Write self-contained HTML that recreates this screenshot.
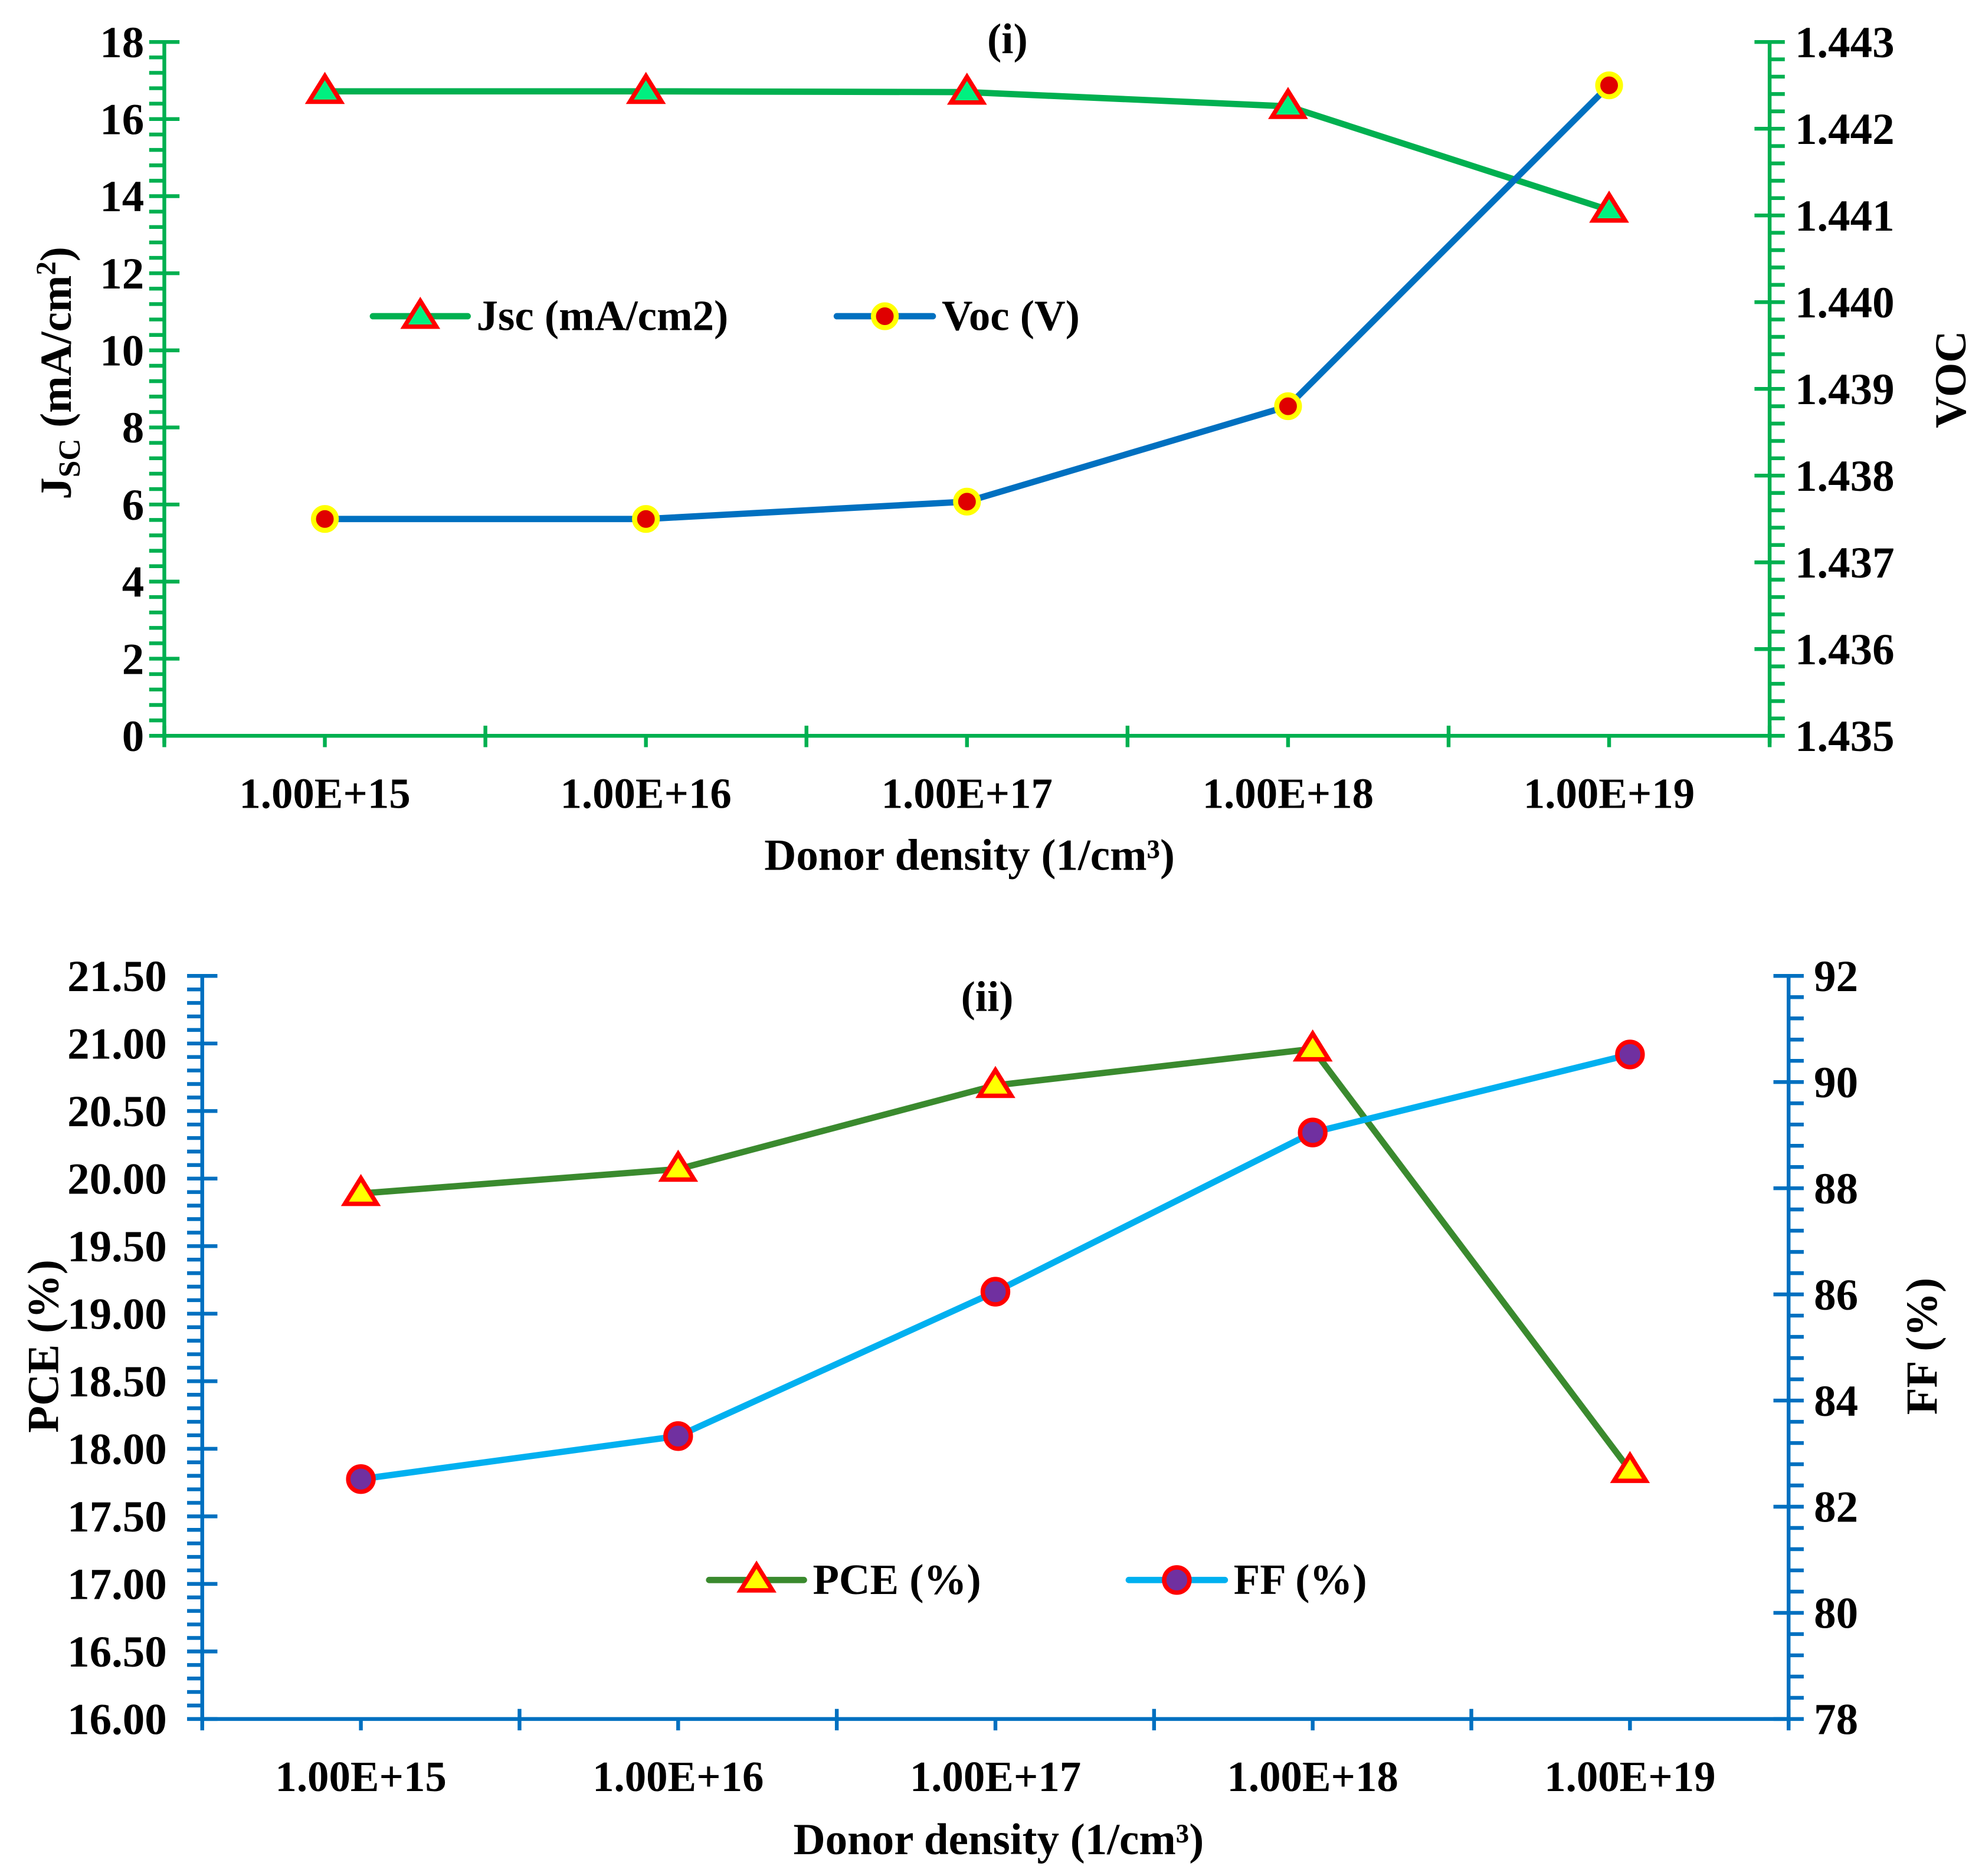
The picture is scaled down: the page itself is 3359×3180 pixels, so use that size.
<!DOCTYPE html>
<html><head><meta charset="utf-8"><style>
html,body{margin:0;padding:0;background:#fff}
svg{display:block}
text{font-family:"Liberation Serif",serif;font-weight:bold;fill:#000}
</style></head><body>
<svg id="c" width="3359" height="3180" viewBox="0 0 1568 1484" xmlns="http://www.w3.org/2000/svg"></svg>
<script>
const categories=["1.00E+15","1.00E+16","1.00E+17","1.00E+18","1.00E+19"];
const jscValues=[16.72,16.72,16.70,16.33,13.64];
const vocValues=[1.4375,1.4375,1.4377,1.4388,1.4425];
const pceValues=[19.89,20.07,20.69,20.96,17.84];
const ffValues=[82.52,83.33,86.05,89.05,90.52];
const jscTicks=[0,2,4,6,8,10,12,14,16,18];
const vocTicks=[1.435,1.436,1.437,1.438,1.439,1.440,1.441,1.442,1.443];
const pceTicks=[16,16.5,17,17.5,18,18.5,19,19.5,20,20.5,21,21.5];
const ffTicks=[78,80,82,84,86,88,90,92];

const svg=document.getElementById('c');
const NS="http://www.w3.org/2000/svg";
function mk(tag,attrs,parent,name){const e=document.createElementNS(NS,tag);for(const k in attrs)e.setAttribute(k,attrs[k]);(parent||svg).appendChild(e);


return e;}
function txt(x,y,s,size,anchor,name,rot){const t=mk('text',{x:x,y:y,'font-size':size,'text-anchor':anchor||'middle'},svg,name);if(rot)t.setAttribute('transform',`rotate(${rot} ${x} ${y})`);t.innerHTML=s;return t;}

function panel(o){
  const xs=i=>o.x0+(i+0.5)*(o.x1-o.x0)/categories.length;
  const yl=v=>o.yb-(v-o.lmin)/(o.lmax-o.lmin)*(o.yb-o.yt);
  const yr=v=>o.yb-(v-o.rmin)/(o.rmax-o.rmin)*(o.yb-o.yt);
  const ac=o.axisColor;
  mk('line',{x1:o.x0,y1:o.yt,x2:o.x0,y2:o.yb+6,stroke:ac,'stroke-width':3},svg,'left-axis');
  o.lt.forEach(v=>{const y=yl(v);
    mk('line',{x1:o.x0-12,y1:y,x2:o.x0+12,y2:y,stroke:ac,'stroke-width':3},svg,'left-major-tick');
    txt(o.x0-o.lgap,y+12,o.lfmt(v),35,'end','left-tick-label');});
  for(let k=1;k<o.lt.length;k++){const a=o.lt[k-1],b=o.lt[k];for(let m=1;m<o.lminN;m++){const y=yl(a+(b-a)*m/o.lminN);mk('line',{x1:o.x0-12,y1:y,x2:o.x0,y2:y,stroke:ac,'stroke-width':3},svg,'left-minor-tick');}}
  mk('line',{x1:o.x1,y1:o.yt,x2:o.x1,y2:o.yb+6,stroke:ac,'stroke-width':3},svg,'right-axis');
  o.rt.forEach(v=>{const y=yr(v);
    mk('line',{x1:o.x1-12,y1:y,x2:o.x1+12,y2:y,stroke:ac,'stroke-width':3},svg,'right-major-tick');
    txt(o.x1+20,y+12,o.rfmt(v),35,'start','right-tick-label');});
  for(let k=1;k<o.rt.length;k++){const a=o.rt[k-1],b=o.rt[k];for(let m=1;m<o.rminN;m++){const y=yr(a+(b-a)*m/o.rminN);mk('line',{x1:o.x1,y1:y,x2:o.x1+12,y2:y,stroke:ac,'stroke-width':3},svg,'right-minor-tick');}}
  mk('line',{x1:o.x0,y1:o.yb,x2:o.x1,y2:o.yb,stroke:ac,'stroke-width':3},svg,'x-axis');
  const w=(o.x1-o.x0)/categories.length;
  for(let k=0;k<=categories.length;k++){const x=o.x0+k*w;mk('line',{x1:x,y1:o.yb-8,x2:x,y2:o.yb+9,stroke:ac,'stroke-width':3},svg,'x-major-tick');}
  categories.forEach((c,i)=>{mk('line',{x1:xs(i),y1:o.yb,x2:xs(i),y2:o.yb+9,stroke:ac,'stroke-width':3},svg,'x-minor-tick');
    txt(xs(i),o.yb+57,c,34,'middle','x-tick-label');});
  o.series.forEach(s=>{
    const yf=s.axis==='l'?yl:yr;
    const pts=s.vals.map((v,i)=>xs(i)+','+yf(v)).join(' ');
    mk('polyline',{points:pts,fill:'none',stroke:s.color,'stroke-width':5,'stroke-linejoin':'round'},svg,s.name+'-line');
    s.vals.forEach((v,i)=>marker(s,xs(i),yf(v),s.name+'-point'));
  });
}
function marker(s,x,y,name){
  if(s.marker==='tri'){const r=11;mk('polygon',{points:`${x},${y-r*1.1} ${x-r*1.15},${y+r*0.75} ${x+r*1.15},${y+r*0.75}`,fill:s.mfill,stroke:s.mstroke,'stroke-width':3.5,'stroke-linejoin':'miter'},svg,name);}
  else mk('circle',{cx:x,cy:y,r:s.r||9.5,fill:s.mfill,stroke:s.mstroke,'stroke-width':s.sw||4},svg,name);
}
function legend(x1,x2,y,s,label){
  mk('line',{x1:x1,y1:y,x2:x2,y2:y,stroke:s.color,'stroke-width':5,'stroke-linecap':'round'},svg,s.name+'-legend-line');
  marker(s,(x1+x2)/2,y,s.name+'-legend-marker');
  txt(x2+7,y+11,label,34,'start',s.name+'-legend-label');
}

const jsc={name:'jsc',axis:'l',vals:jscValues,color:'#00B050',marker:'tri',mfill:'#00F080',mstroke:'#FF0000'};
const voc={name:'voc',axis:'r',vals:vocValues,color:'#0070C0',marker:'circ',mfill:'#E00000',mstroke:'#FFFF00',r:9,sw:4};
panel({x0:130,x1:1400,yt:33,yb:582,lmin:0,lmax:18,rmin:1.435,rmax:1.443,lt:jscTicks,rt:vocTicks,lminN:5,rminN:5,lgap:16,
  lfmt:v=>String(v),rfmt:v=>v.toFixed(3),axisColor:'#00B050',series:[jsc,voc]});
txt(797,42,'(i)',34,'middle','panel-i-title');
legend(295,370,250,jsc,'Jsc (mA/cm2)');
legend(662,738,250,voc,'Voc (V)');
txt(56,295,'J<tspan font-size="24" dy="7">SC</tspan><tspan dy="-7"> (mA/cm</tspan><tspan font-size="22" dy="-12">2</tspan><tspan dy="12">)</tspan>',35,'middle','y-axis-title-left-i',-90);
txt(1555,300,'VOC',35,'middle','y-axis-title-right-i',-90);
txt(767,688,'Donor density (1/cm³)',35,'middle','x-axis-title-i');

const pce={name:'pce',axis:'l',vals:pceValues,color:'#3A8A2E',marker:'tri',mfill:'#FFFF00',mstroke:'#FF0000'};
const ff={name:'ff',axis:'r',vals:ffValues,color:'#00B0F0',marker:'circ',mfill:'#7030A0',mstroke:'#FF0000',r:10,sw:3.5};
panel({x0:160,x1:1415,yt:772,yb:1360,lmin:16,lmax:21.5,rmin:78,rmax:92,lt:pceTicks,rt:ffTicks,lminN:5,rminN:5,lgap:28,
  lfmt:v=>v.toFixed(2),rfmt:v=>String(v),axisColor:'#0070C0',series:[pce,ff]});
txt(781,800,'(ii)',34,'middle','panel-ii-title');
legend(561,636,1250,pce,'PCE (%)');
legend(893,969,1250,ff,'FF (%)');
txt(46,1065,'PCE (%)',35,'middle','y-axis-title-left-ii',-90);
txt(1532,1065,'FF (%)',35,'middle','y-axis-title-right-ii',-90);
txt(790,1467,'Donor density (1/cm³)',35,'middle','x-axis-title-ii');
</script>
</body></html>
